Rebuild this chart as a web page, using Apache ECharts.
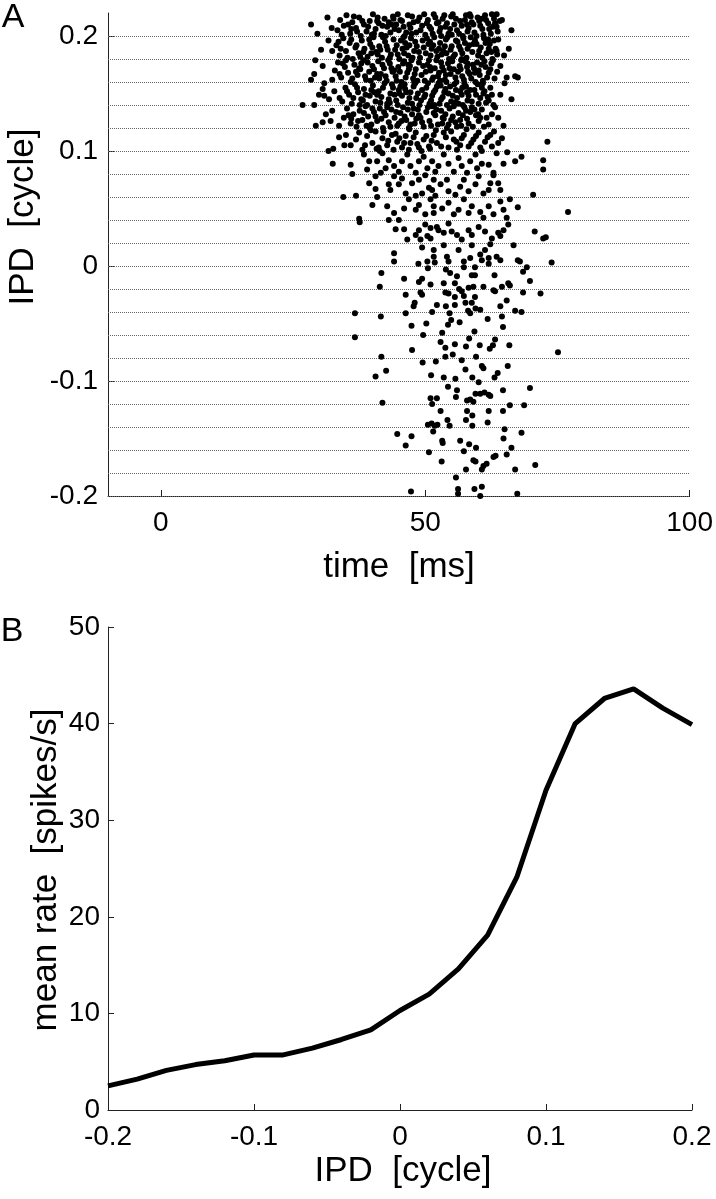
<!DOCTYPE html>
<html><head><meta charset="utf-8">
<script src="https://cdn.jsdelivr.net/npm/echarts@6/dist/echarts.min.js"></script>
<style>html,body{margin:0;padding:0;background:#fff}#c{width:716px;height:1199px}</style>
</head><body><div id="c"></div>
<script>
// ---------- Panel A: raster (spike time [ms], trial index within each IPD band) ----------
const ipdLevels = [-0.2,-0.18,-0.16,-0.14,-0.12,-0.1,-0.08,-0.06,-0.04,-0.02,0,0.02,0.04,0.06,0.08,0.1,0.12,0.14,0.16,0.18,0.2];
const TRIAL_STEP = 0.001; // 20 trials per 0.02-cycle band

const spikesM20 = [[47.3,4],[56.2,6],[56.2,2],[59.3,6],[60.7,8],[60.4,0],[67.4,2],[55.8,16]];
const spikesM18 = [[50.7,18],[53.1,10],[57.7,3],[59.1,11],[59.5,10],[60.7,3],[61.0,6],[61.6,8],[62.9,14],[63.3,15],[65.4,16],[67.0,3],[70.8,7],[57.3,19]];
const spikesM16 = [[44.7,14],[47.4,12],[46.3,4],[53.2,8],[53.3,6],[56.6,8],[58.3,5],[59.6,2],[51.5,16],[64.8,10],[65.0,18],[68.2,15],[66.3,2]];
const spikesM14 = [[50.5,2],[51.2,3],[51.8,1],[52.3,2],[52.9,14],[54.2,6],[54.6,1],[57.9,14],[57.7,6],[58.9,10],[58.9,1],[62.0,14],[61.8,4],[64.7,14],[66.0,19],[68.7,19]];
const spikesM12 = [[41.9,1],[51.0,5],[51.3,0],[52.2,5],[54.3,15],[56.0,12],[55.8,6],[57.9,3],[58.5,4],[59.1,2],[59.5,9],[60.4,9],[61.2,10],[62.0,8],[62.3,7],[64.7,12],[69.8,14],[60.1,19]];
const spikesM10 = [[42.6,9],[40.6,4],[51.1,5],[53.5,3],[55.7,2],[57.6,10],[58.9,3],[63.1,3],[63.7,7],[65.6,13],[60.7,13],[61.0,11],[49.5,16],[52.0,17],[56.9,18]];
const spikesM08 = [[36.7,18],[41.7,1],[47.5,7],[52.9,14],[53.8,9],[55.6,12],[57.7,10],[53.8,1],[55.2,3],[58.3,17],[63.2,16],[62.8,11],[62.2,8],[60.3,11],[65.9,11],[75.1,5],[59.6,1]];
const spikesM06 = [[36.7,19],[41.6,16],[46.3,19],[47.4,8],[50.2,10],[49.6,0],[53.2,2],[54.3,9],[54.9,13],[56.5,11],[59.3,3],[54.6,19],[64.5,16],[64.7,7],[61.8,14],[58.5,19]];
const spikesM04 = [[51.3,0],[46.3,15],[47.8,5],[48.0,8],[49.1,17],[49.4,15],[52.2,6],[53.9,5],[53.8,17],[54.4,16],[55.6,13],[56.9,18],[57.3,14],[55.6,6],[57.6,8],[58.1,1],[59.5,3],[58.8,8],[59.4,13],[62.9,19],[63.2,18],[68.5,17],[71.8,16],[64.2,5],[65.4,10],[60.4,2],[67.0,1],[68.2,0]];
const spikesM02 = [[41.4,2],[41.7,14],[46.0,9],[48.8,6],[49.4,9],[50.5,18],[51.0,4],[53.5,5],[53.9,17],[54.7,14],[56.0,11],[55.6,5],[57.3,19],[58.8,12],[59.4,12],[58.2,1],[59.1,2],[56.4,0],[59.4,19],[61.0,2],[63.1,12],[64.5,2],[65.7,5],[66.0,3],[69.8,7],[68.5,15],[69.2,19]];
const spikesZ00 = [[44.1,11],[44.1,4],[48.7,2],[49.4,16],[50.4,4],[51.6,8],[51.6,14],[54.1,8],[54.4,4],[53.5,18],[57.3,4],[58.5,7],[60.4,10],[60.7,5],[61.3,14],[62.0,7],[63.5,8],[64.2,5],[62.3,19],[66.7,18],[67.5,5],[67.9,4],[73.9,3],[56.3,14],[58.8,18],[51.8,3],[62.0,2]];
const spikesP02 = [[44.4,12],[46.0,12],[46.6,3],[48.2,7],[48.8,11],[49.1,3],[50.4,6],[51.0,13],[50.0,16],[52.2,14],[52.5,11],[53.5,9],[55.0,10],[56.0,7],[56.9,3],[58.2,11],[58.8,7],[60.1,14],[61.3,10],[62.6,4],[63.8,9],[64.8,11],[64.2,6],[70.7,10],[72.3,4],[72.8,5],[54.4,17],[65.7,16],[51.0,4],[37.6,18]];
const spikesP04 = [[40.0,13],[42.8,12],[44.1,6],[46.0,10],[48.2,9],[50.0,5],[45.0,0],[43.1,0],[37.5,1],[51.6,12],[51.0,18],[46.9,18],[48.8,13],[51.6,6],[53.2,10],[54.4,15],[55.4,5],[56.3,9],[57.3,18],[58.2,6],[58.8,12],[60.4,7],[61.0,2],[62.0,12],[62.9,5],[64.2,16],[64.8,9],[65.4,2],[66.0,18],[67.5,11],[77.0,7]];
const spikesP06 = [[34.5,0],[36.9,1],[40.6,7],[40.9,0],[43.1,11],[43.4,6],[45.0,11],[45.6,16],[46.3,3],[48.2,1],[49.4,3],[50.7,8],[40.6,18],[39.4,12],[44.1,18],[47.5,12],[48.8,15],[50.0,19],[51.6,15],[51.9,1],[51.3,6],[52.9,11],[54.1,15],[54.4,5],[55.7,2],[56.6,9],[57.3,15],[58.2,5],[59.5,11],[60.1,18],[61.0,3],[62.0,6],[62.3,12],[63.8,12],[64.2,6],[62.9,19],[70.4,2]];
const spikesP08 = [[32.5,9],[35.9,8],[36.2,0],[39.4,11],[39.0,4],[40.9,11],[41.6,1],[42.5,5],[43.1,12],[44.1,7],[45.0,2],[45.6,11],[46.6,17],[47.2,7],[48.2,1],[48.8,11],[49.7,15],[50.4,5],[51.3,11],[51.9,2],[38.4,17],[41.9,18],[52.5,7],[53.5,17],[54.4,9],[55.4,2],[56.3,14],[56.9,7],[57.9,1],[58.5,11],[59.5,17],[59.8,5],[60.7,9],[62.0,8],[62.9,1],[63.5,18],[64.8,9],[67.0,11],[68.2,15],[65.5,19],[72.3,12],[72.3,4]];
const spikesP10 = [[31.7,0],[32.6,2],[33.7,12],[34.7,5],[35.0,14],[35.9,5],[36.9,10],[38.1,1],[37.5,16],[39.0,13],[40.0,7],[41.2,3],[41.9,11],[42.8,5],[43.7,14],[44.7,8],[45.6,3],[46.3,13],[47.2,7],[48.2,16],[48.8,3],[49.7,10],[50.7,4],[51.6,14],[52.2,7],[40.6,17],[46.9,1],
  [53.5,16],[54.4,3],[55.4,10],[56.6,5],[57.3,14],[58.2,4],[59.1,10],[60.1,16],[60.4,3],[61.3,8],[62.3,14],[62.6,4],[63.8,7],[64.5,11],[73.1,8],
  [38.6,5],[39.7,18],[40.8,2],[42.1,17],[43.0,9],[44.0,1],[45.1,11],[46.0,7],[47.0,19],[47.8,12],[48.5,6],[49.3,0],[50.2,13],[51.2,9],[52.0,18],[53.0,4],[53.9,12],[54.9,17],[56.0,1],[56.9,11],[57.8,19],[58.7,7],[59.6,13],[60.7,0],[61.8,12],[63.0,17],[44.4,15],[50.9,2],[55.9,8],[41.4,0]];
const spikesP12 = [[29.3,2],[30.6,5],[31.2,12],[32.1,6],[32.4,15],[33.7,2],[61.6,9],[62.6,12],[63.2,18],[63.8,9],[64.8,2],[62.0,3],
  [34.6,9],[35.2,17],[35.9,4],[36.4,12],[37.0,1],[37.6,15],[38.1,7],[38.7,19],[39.2,10],[39.8,3],[40.3,14],[40.9,6],[41.4,17],[42.0,0],[42.5,11],[43.1,5],[43.6,16],[44.2,9],[44.7,2],[45.3,13],
  [45.8,18],[46.4,7],[46.9,0],[47.5,12],[48.0,4],[48.6,16],[49.1,9],[49.7,1],[50.2,14],[50.8,6],[51.3,19],[51.9,11],[52.4,3],[53.0,15],[53.5,8],[54.1,0],[54.6,17],[55.2,10],[55.7,5],[56.3,13],
  [56.8,2],[57.4,18],[57.9,8],[58.5,14],[59.0,1],[59.6,11],[60.1,6],[60.7,16],
  [36.0,8],[37.3,6],[38.4,13],[39.5,0],[40.6,10],[41.7,8],[42.8,18],[43.4,1],[44.5,14],[45.5,6],[46.1,10],[47.2,3],[47.8,17],[48.8,11],[49.4,5],[50.5,18],[51.1,2],[52.1,16],[53.2,4],[53.8,12],
  [54.9,7],[55.4,19],[56.0,1],[57.1,11],[58.2,4],[59.3,16],[60.4,9],
  [35.5,11],[38.9,2],[42.2,14],[45.0,4],[48.3,8],[51.6,13],[54.4,3],[57.7,15],[60.0,12],[61.1,1],[40.0,17],[46.7,16],[53.3,9],[56.6,7],[58.8,18]];
const spikesP14 = [[26.8,0],[29.0,0],[30.6,14],[30.9,8],[31.8,5],[29.9,9],[32.8,12],[62.6,9],[64.2,9],[62.9,0],[66.3,5],[62.3,15],[30.9,19],[65.0,19],
  [34.3,3],[34.9,15],[35.6,9],[36.1,1],[36.7,18],[37.3,11],[37.9,5],[38.4,14],[39.0,0],[39.5,8],[40.1,17],[40.6,3],[41.2,12],[41.7,7],[42.3,19],[42.8,1],[43.4,10],[43.9,15],[44.5,4],[45.0,13],
  [45.6,8],[46.1,18],[46.7,2],[47.2,11],[47.8,16],[48.3,6],[48.9,0],[49.4,13],[50.0,9],[50.5,19],[51.1,4],[51.6,11],[52.2,16],[52.7,1],[53.3,7],[53.8,14],[54.4,10],[54.9,3],[55.5,18],[56.0,6],
  [56.6,12],[57.1,0],[57.7,16],[58.2,8],[58.8,3],[59.3,13],[59.9,18],[60.4,6],[61.0,10],[61.5,2],
  [35.2,12],[36.4,6],[37.6,0],[38.7,9],[39.8,13],[40.9,9],[41.5,2],[42.0,15],[43.1,5],[43.7,18],[44.2,9],[44.8,0],[45.3,16],[46.4,11],[47.0,6],[47.5,1],[48.1,19],[48.6,10],[49.2,4],[50.2,15],
  [50.8,1],[51.3,8],[51.9,13],[52.5,19],[53.0,5],[53.6,11],[54.1,0],[54.7,16],[55.2,8],[55.8,13],[56.3,1],[56.9,9],[57.4,19],[58.0,4],[58.5,13],[59.6,9],[60.1,1],[60.7,15],[61.2,12],[61.8,7],
  [33.8,6],[37.1,15],[40.4,11],[43.3,2],[46.2,14],[49.8,7],[52.9,17],[55.7,2],[57.9,11],[60.9,19],[38.2,4],[45.1,10],[51.7,0],[57.0,15],[62.0,4]];
const spikesP16 = [[29.2,19],[29.0,7],[28.4,2],[32.4,2],[30.6,14],[64.2,14],[65.4,4],[67.0,5],[67.5,4],
  [32.9,10],[33.5,17],[34.1,4],[34.8,13],[35.4,8],[35.9,0],[36.6,15],[37.2,6],[37.7,11],[38.3,19],[38.8,2],[39.4,9],[40.0,14],[40.5,4],[41.1,18],[41.6,7],[42.2,12],[42.7,1],[43.3,16],[43.8,9],
  [44.4,5],[44.9,13],[45.5,0],[46.0,18],[46.6,8],[47.1,14],[47.7,3],[48.2,11],[48.8,17],[49.3,6],[49.9,1],[50.4,15],[51.0,10],[51.5,4],[52.1,19],[52.6,8],[53.2,13],[53.7,2],[54.3,16],[54.8,7],
  [55.4,11],[55.9,0],[56.5,14],[57.0,5],[57.6,18],[58.1,9],[58.7,3],[59.2,12],[59.8,17],[60.3,6],[60.9,1],[61.4,13],[62.0,8],[62.5,16],[63.1,3],
  [33.8,7],[35.0,19],[36.2,3],[36.9,9],[37.9,16],[38.6,5],[39.7,1],[40.3,11],[40.9,7],[41.9,15],[42.5,5],[43.0,19],[43.6,12],[44.6,1],[45.2,9],[45.8,16],[46.3,4],[46.9,11],[47.4,19],[48.0,7],
  [48.5,1],[49.6,14],[50.1,9],[50.7,19],[51.3,2],[51.8,12],[52.4,5],[53.0,17],[53.5,10],[54.0,0],[54.6,12],[55.1,18],[55.7,4],[56.2,9],[56.8,19],[57.3,2],[57.9,13],[58.4,7],[59.0,15],[59.5,0],
  [60.1,10],[60.6,15],[61.7,4],[62.3,11],[62.8,19],
  [34.4,16],[37.5,12],[41.3,3],[44.1,10],[47.9,0],[50.9,13],[53.9,6],[56.7,11],[59.4,8],[61.2,18],[39.1,17],[46.8,15],[52.8,1],[58.0,16],[63.6,9]];
const spikesP18 = [[31.7,16],[30.3,8],[32.4,7],[63.5,7],[63.8,17],[65.8,9],[64.9,3],
  [33.2,12],[33.8,3],[34.5,18],[35.0,7],[35.7,14],[36.3,0],[36.8,10],[37.4,5],[38.0,16],[38.5,9],[39.1,2],[39.6,13],[40.2,19],[40.7,6],[41.3,11],[41.8,1],[42.4,15],[42.9,8],[43.5,4],[44.0,17],
  [44.6,12],[45.1,0],[45.7,9],[46.2,14],[46.8,3],[47.3,18],[47.9,7],[48.4,11],[49.0,1],[49.5,16],[50.1,5],[50.6,13],[51.2,9],[51.7,19],[52.3,2],[52.8,14],[53.4,7],[53.9,17],[54.5,0],[55.0,11],
  [55.6,4],[56.1,15],[56.7,8],[57.2,18],[57.8,1],[58.3,12],[58.9,6],[59.4,16],[60.0,3],[60.5,10],[61.1,18],[61.6,5],[62.2,13],[62.7,0],[63.3,9],
  [34.0,9],[35.3,1],[36.0,17],[37.0,12],[38.3,6],[39.4,17],[40.0,10],[41.0,4],[42.0,19],[42.7,11],[43.3,1],[44.3,8],[45.4,16],[46.0,5],[46.5,10],[47.6,1],[48.1,15],[48.8,6],[49.7,10],[50.3,18],
  [51.0,3],[51.5,12],[52.1,7],[53.1,4],[53.7,11],[54.2,19],[54.8,8],[55.3,2],[56.4,11],[57.0,5],[57.5,14],[58.0,9],[58.6,19],[59.7,13],[60.2,7],[60.8,1],[61.4,14],[62.0,9],[63.0,16],[63.6,4],
  [33.6,15],[37.7,2],[41.5,8],[44.8,4],[47.0,12],[50.9,15],[54.0,5],[56.9,0],[59.1,13],[61.9,17],[39.8,5],[45.9,19],[52.6,9],[55.8,16],[62.5,6]];
const spikesP20 = [[28.4,10],[31.5,16],[29.6,2],[32.3,7],[63.5,19],[64.5,14],[66.3,5],
  [33.4,5],[33.9,14],[34.6,9],[35.1,18],[35.8,2],[36.2,12],[36.9,7],[37.5,16],[37.8,0],[38.4,10],[38.9,4],[39.5,13],[40.1,19],[40.6,6],[41.2,11],[41.7,1],[42.3,15],[42.8,8],[43.4,3],[43.9,17],
  [44.5,10],[45.0,5],[45.6,13],[46.1,0],[46.7,18],[47.2,7],[47.8,12],[48.3,3],[48.9,16],[49.4,9],[50.0,1],[50.5,14],[51.1,6],[51.6,19],[52.2,11],[52.7,4],[53.3,15],[53.8,8],[54.4,2],[54.9,17],
  [55.5,10],[56.0,5],[56.6,13],[57.1,0],[57.7,18],[58.2,7],[58.8,12],[59.3,3],[59.9,16],[60.4,9],[61.0,1],[61.5,14],[62.1,6],[62.6,19],[63.2,11],[63.7,4],
  [34.2,1],[35.4,10],[36.5,17],[37.1,4],[38.1,13],[39.2,8],[40.3,2],[41.0,16],[41.9,9],[42.5,0],[43.1,12],[44.2,6],[44.8,19],[45.3,14],[46.4,3],[47.0,10],[47.5,17],[48.6,13],[49.1,5],[49.8,19],
  [50.8,8],[51.4,2],[51.9,16],[52.5,12],[53.0,0],[54.1,11],[54.7,6],[55.2,19],[55.8,15],[56.4,2],[56.9,9],[57.5,14],[58.0,4],[58.6,17],[59.1,10],[59.7,0],[60.2,13],[60.8,6],[61.3,18],[61.9,11],
  [62.4,2],[63.0,15],[63.5,8],[64.1,13],
  [36.0,6],[39.9,1],[43.6,10],[45.9,8],[50.3,11],[52.9,7],[55.0,1],[57.9,10],[60.6,15],[62.8,8],[40.9,13],[47.4,2],[53.6,18],[58.4,19],[44.0,15]];

const spikeRows = [spikesM20,spikesM18,spikesM16,spikesM14,spikesM12,spikesM10,spikesM08,spikesM06,spikesM04,spikesM02,spikesZ00,spikesP02,spikesP04,spikesP06,spikesP08,spikesP10,spikesP12,spikesP14,spikesP16,spikesP18,spikesP20];

const timeTicks = [0, 50, 100];
const ipdTicksA = [-0.2, -0.1, 0, 0.1, 0.2];

// ---------- Panel B: mean rate vs IPD ----------
const rateIPD = [-0.2,-0.18,-0.16,-0.14,-0.12,-0.1,-0.08,-0.06,-0.04,-0.02,0,0.02,0.04,0.06,0.08,0.1,0.12,0.14,0.16,0.18,0.2];
const rateValues = [2.5,3.2,4.1,4.7,5.1,5.7,5.7,6.4,7.3,8.3,10.3,12.0,14.6,18.1,24.1,33.1,40.0,42.6,43.6,41.6,39.9];

const FONT = "'Liberation Sans', Arial, Helvetica, sans-serif";
const AX = '#222';
const TICK_FS = 28, NAME_FS = 35;

const scatterData = [];
spikeRows.forEach((row, i) => {
  row.forEach(([t, tr]) => scatterData.push([t, +(ipdLevels[i] + tr * TRIAL_STEP).toFixed(4)]));
});

const fmt = v => { const r = Math.round(v * 100) / 100; return r === 0 ? '0' : String(r); };
const txt = (text, x, y, size, rot) => ({
  type: 'text', x: x, y: y, rotation: rot || 0, silent: true,
  style: {text: text, font: size + 'px ' + FONT, fill: '#000', align: 'center', verticalAlign: 'middle', textAlign: 'center', textVerticalAlign: 'middle'}
});

const chart = echarts.init(document.getElementById('c'), null, {renderer: 'canvas'});
chart.setOption({
  animation: false,
  backgroundColor: '#fff',
  textStyle: {fontFamily: FONT},
  grid: [
    {left: 108, top: 13, width: 584, height: 483},
    {left: 108, top: 627, width: 584, height: 483}
  ],
  graphic: [
    txt('A', 13, 18, 34),
    txt('B', 12, 632, 34),
    txt('time  [ms]', 399, 567, NAME_FS),
    txt('IPD  [cycle]', 403, 1171, NAME_FS),
    txt('IPD  [cycle]', 23, 217, NAME_FS, Math.PI / 2),
    txt('mean rate  [spikes/s]', 46, 870, NAME_FS, Math.PI / 2)
  ],
  xAxis: [
    {type: 'value', gridIndex: 0, min: -10, max: 100,
     axisLine: {onZero: false, lineStyle: {color: AX, width: 1}},
     axisTick: {inside: true, length: 6, customValues: timeTicks, lineStyle: {color: AX}},
     axisLabel: {customValues: timeTicks, fontSize: TICK_FS, color: '#000', margin: 13, fontFamily: FONT},
     splitLine: {show: false}},
    {type: 'value', gridIndex: 1, min: -0.2, max: 0.2, interval: 0.1,
     axisLine: {onZero: false, lineStyle: {color: AX, width: 1}},
     axisTick: {inside: true, length: 6, lineStyle: {color: AX}},
     axisLabel: {fontSize: TICK_FS, color: '#000', margin: 13, fontFamily: FONT, formatter: fmt},
     splitLine: {show: false}}
  ],
  yAxis: [
    {type: 'value', gridIndex: 0, min: -0.2, max: 0.22,
     axisLine: {show: true, onZero: false, lineStyle: {color: AX, width: 1}},
     axisTick: {show: true, inside: true, length: 6, customValues: ipdTicksA, lineStyle: {color: AX}},
     axisLabel: {customValues: ipdTicksA, fontSize: TICK_FS, color: '#000', margin: 10, fontFamily: FONT, formatter: fmt},
     splitLine: {show: false}},
    {type: 'value', gridIndex: 1, min: 0, max: 50, interval: 10,
     axisLine: {show: true, onZero: false, lineStyle: {color: AX, width: 1}},
     axisTick: {show: true, inside: true, length: 6, lineStyle: {color: AX}},
     axisLabel: {fontSize: TICK_FS, color: '#000', margin: 8, fontFamily: FONT},
     splitLine: {show: false}}
  ],
  series: [
    {type: 'scatter', xAxisIndex: 0, yAxisIndex: 0, data: scatterData,
     symbol: 'circle', symbolSize: 6, itemStyle: {color: '#000', opacity: 1}, silent: true, z: 3,
     markLine: {silent: true, symbol: ['none', 'none'], z: 1, animation: false,
       label: {show: false},
       lineStyle: {color: '#666', type: [1, 1], width: 1},
       emphasis: {disabled: true},
       data: ipdLevels.map(v => ({yAxis: v}))}},
    {type: 'line', xAxisIndex: 1, yAxisIndex: 1,
     data: rateIPD.map((x, i) => [x, rateValues[i]]),
     symbol: 'none', showSymbol: false, silent: true,
     lineStyle: {color: '#000', width: 5}, z: 3}
  ]
});
</script>
</body></html>
